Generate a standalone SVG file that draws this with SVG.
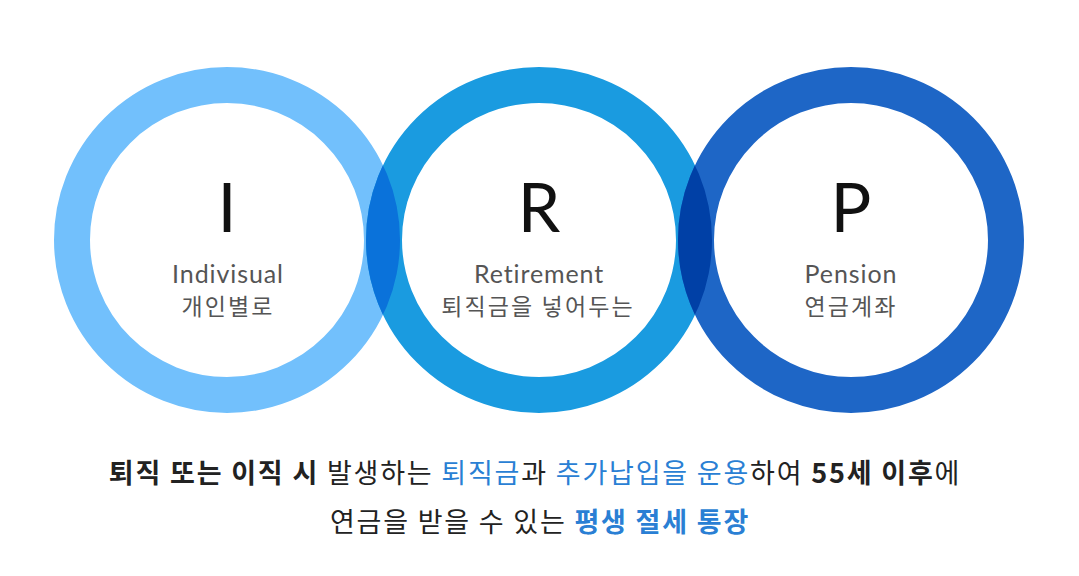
<svg xmlns="http://www.w3.org/2000/svg" width="1079" height="576" viewBox="0 0 1079 576">
<style>
.ring{fill:none;stroke-width:36}
.big{font-family:Lato,"Noto Sans",sans-serif;font-size:68px;fill:#111;text-anchor:middle}
.sub{font-family:Lato,"Noto Sans CJK KR",sans-serif;font-size:25px;letter-spacing:0.9px;fill:#555;text-anchor:middle}
.ko{font-family:"Noto Sans CJK KR",sans-serif;font-size:23px;letter-spacing:2.1px;fill:#555;text-anchor:middle}
.desc{font-family:"Noto Sans CJK KR",sans-serif;font-size:27px;letter-spacing:1.8px;fill:#222;text-anchor:middle}
.b{font-weight:bold}
.blue{fill:#2a7fd4}
</style>
<defs>
<clipPath id="c1"><path clip-rule="evenodd" d="M54,240a173,173 0 1,0 346,0a173,173 0 1,0 -346,0ZM90,240a137,137 0 1,0 274,0a137,137 0 1,0 -274,0Z"/></clipPath>
<clipPath id="c2"><path clip-rule="evenodd" d="M366,240a173,173 0 1,0 346,0a173,173 0 1,0 -346,0ZM402,240a137,137 0 1,0 274,0a137,137 0 1,0 -274,0Z"/></clipPath>
</defs>
<rect width="1079" height="576" fill="#fff"/>
<g id="node-i">
<circle class="ring" cx="227" cy="240" r="155" stroke="#72c0fc"/>
<text class="big" x="227" y="232">I</text>
<text class="sub" x="228" y="283">Indivisual</text>
<text class="ko" x="228" y="315">개인별로</text>
</g>
<g id="node-r">
<circle class="ring" cx="539" cy="240" r="155" stroke="#1a9be0"/>
<text class="big" x="539" y="232">R</text>
<text class="sub" x="539" y="283">Retirement</text>
<text class="ko" x="538" y="315">퇴직금을 넣어두는</text>
</g>
<g id="node-p">
<circle class="ring" cx="851" cy="240" r="155" stroke="#1e66c6"/>
<text class="big" x="851" y="232">P</text>
<text class="sub" x="851" y="283">Pension</text>
<text class="ko" x="851" y="315">연금계좌</text>
</g>
<g id="connectors">
<circle class="ring" cx="539" cy="240" r="155" stroke="#0a72da" clip-path="url(#c1)"/>
<circle class="ring" cx="851" cy="240" r="155" stroke="#0040a6" clip-path="url(#c2)"/>
</g>
<g id="caption">
<text class="desc" x="535" y="483"><tspan class="b">퇴직 또는 이직 시</tspan> 발생하는 <tspan class="blue">퇴직금</tspan>과 <tspan class="blue">추가납입을 운용</tspan>하여 <tspan class="b">55세 이후</tspan>에</text>
<text class="desc" x="540" y="532">연금을 받을 수 있는 <tspan class="blue b">평생 절세 통장</tspan></text>
</g>
</svg>
